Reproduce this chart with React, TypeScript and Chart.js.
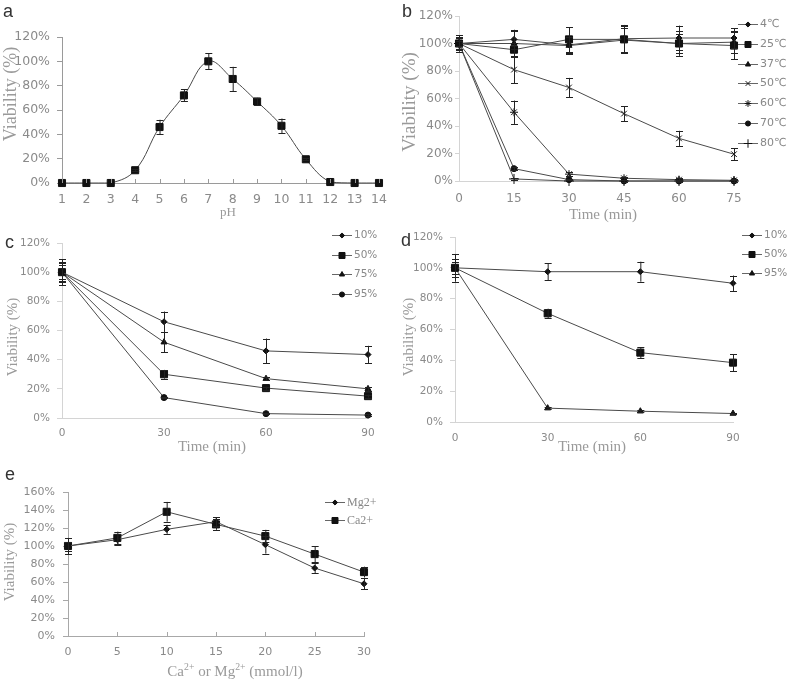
import React, { useEffect, useRef } from 'react';
import { Chart, registerables } from 'chart.js';
import { drawPoint } from 'chart.js/helpers';

Chart.register(...registerables);

// ---------- Panel a: pH ----------
const PH_LEVELS = [1, 2, 3, 4, 5, 6, 7, 8, 9, 10, 11, 12, 13, 14];
const PH_VIABILITY = [0, 0, 0, 10.5, 46, 72, 100, 85.5, 67, 47, 19.5, 0.8, 0, 0];
const PH_ERROR = [0, 0, 0, 0.8, 6, 5, 6.5, 10, 3, 6, 1, 0, 0, 0];

// ---------- Panel b: temperature ----------
const HEAT_TIMES = [0, 15, 30, 45, 60, 75];
const HEAT_LABELS = ['4℃', '25℃', '37℃', '50℃', '60℃', '70℃', '80℃'];
const HEAT_4C = [100, 103, 99, 103.5, 104, 104];
const HEAT_4C_ERR = [6, 7, 6, 10, 9, 7];
const HEAT_25C = [100, 95.5, 103, 103, 100, 98.5];
const HEAT_25C_ERR = [5, 5, 9, 10, 9, 10];
const HEAT_37C = [100, 100, 98.5, 102.5, 100, 101];
const HEAT_37C_ERR = [5, 9, 6, 9, 7, 8];
const HEAT_50C = [100, 81, 68, 49, 31, 19.5];
const HEAT_50C_ERR = [4, 10, 7, 5.5, 5.5, 4.5];
const HEAT_60C = [100, 50, 5, 2, 1, 0.5];
const HEAT_60C_ERR = [4, 8.5, 1.5, 1, 1, 1];
const HEAT_70C = [100, 9, 1, 0, 0, 0];
const HEAT_70C_ERR = [2, 1, 0.5, 0.5, 0.5, 0.5];
const HEAT_80C = [100, 1.5, 0, 0, 0, 0];
const HEAT_80C_ERR = [2, 0.5, 0, 0, 0, 0];

// ---------- Panel c ----------
const C_TIMES = [0, 30, 60, 90];
const C_LABELS = ['10%', '50%', '75%', '95%'];
const C_10 = [100, 66, 46, 43.5];
const C_10_ERR = [9, 7, 8.5, 6];
const C_50 = [100, 30, 20.5, 15];
const C_50_ERR = [7, 3, 1, 1];
const C_75 = [100, 52, 27, 20];
const C_75_ERR = [6, 7, 1, 1.5];
const C_95 = [100, 14, 3, 2];
const C_95_ERR = [5, 0.5, 0.5, 0.5];

// ---------- Panel d ----------
const D_TIMES = [0, 30, 60, 90];
const D_LABELS = ['10%', '50%', '95%'];
const D_10 = [100, 97.5, 97.5, 90];
const D_10_ERR = [9, 5.5, 6.5, 5];
const D_50 = [100, 70.5, 45, 38.5];
const D_50_ERR = [6, 3, 3.5, 5.5];
const D_95 = [100, 9, 7, 5.5];
const D_95_ERR = [4, 0.5, 0.5, 0.5];

// ---------- Panel e ----------
const ION_CONC = [0, 5, 10, 15, 20, 25, 30];
const E_LABELS = ['Mg2+', 'Ca2+'];
const MG_VIABILITY = [100, 107, 118.5, 127, 101.5, 75.5, 58];
const MG_ERR = [9, 6, 5, 5, 10, 6, 6];
const CA_VIABILITY = [100, 109, 138, 124, 111, 91, 71];
const CA_ERR = [5, 7, 11, 6, 7, 9, 6];

const LINE = '#4a4a4a';
const MARK = '#111111';
const TICK_COLOR = '#8a8a8a';
const TICK_FAMILY = "'DejaVu Sans', sans-serif";

type Series = {
  label: string;
  x: number[];
  y: number[];
  err: number[];
  style: string;
  radius: number;
  tension?: number;
};

type Spec = {
  key: string;
  canvas: { x: number; y: number; w: number; h: number };
  area: { l: number; t: number; r: number; b: number };
  xMin: number; xMax: number; xStep: number;
  yMax: number; yStep: number;
  tickSize: number;
  axisColor: string;
  yTickLen: number; yTickPad: number; xTickPad: number;
  innerX: boolean;
  legend?: { x: number; y: number; gap: number; len: number; font: string; color: string };
  series: Series[];
};

const errorBarPlugin = {
  id: 'errorBars',
  afterDatasetsDraw(chart: any) {
    const ctx = chart.ctx;
    const xs = chart.scales.x;
    const ys = chart.scales.y;
    chart.data.datasets.forEach((ds: any) => {
      const errs: number[] = ds.errorBars;
      if (!errs) return;
      ds.data.forEach((pt: any, j: number) => {
        const e = errs[j];
        if (!e) return;
        const px = xs.getPixelForValue(pt.x);
        const yt = ys.getPixelForValue(pt.y + e);
        const yb = ys.getPixelForValue(pt.y - e);
        ctx.save();
        ctx.strokeStyle = '#222';
        ctx.lineWidth = 1;
        ctx.beginPath();
        ctx.moveTo(px + 0.5, yt);
        ctx.lineTo(px + 0.5, yb);
        ctx.moveTo(px - 3, Math.round(yt) + 0.5);
        ctx.lineTo(px + 4, Math.round(yt) + 0.5);
        ctx.moveTo(px - 3, Math.round(yb) + 0.5);
        ctx.lineTo(px + 4, Math.round(yb) + 0.5);
        ctx.stroke();
        ctx.restore();
      });
    });
  },
};

const sideLegendPlugin = {
  id: 'sideLegend',
  afterDraw(chart: any, _args: any, opts: any) {
    if (!opts || !opts.display) return;
    const ctx = chart.ctx;
    chart.data.datasets.forEach((ds: any, i: number) => {
      const y = Math.round(opts.y + i * opts.gap) + 0.5;
      ctx.save();
      ctx.strokeStyle = '#666';
      ctx.lineWidth = 1;
      ctx.beginPath();
      ctx.moveTo(opts.x, y);
      ctx.lineTo(opts.x + opts.len, y);
      ctx.stroke();
      ctx.fillStyle = MARK;
      ctx.strokeStyle = MARK;
      ctx.lineWidth = 1;
      drawPoint(ctx, { pointStyle: ds.pointStyle, radius: ds.pointRadius * 0.85, rotation: 0, borderWidth: 1 } as any, opts.x + opts.len / 2, y);
      ctx.fillStyle = opts.color;
      ctx.font = opts.font;
      ctx.textBaseline = 'middle';
      ctx.textAlign = 'left';
      ctx.fillText(ds.label, opts.x + opts.len + 2, y);
      ctx.restore();
    });
  },
};

const innerTicksPlugin = {
  id: 'innerTicks',
  afterDraw(chart: any, _args: any, opts: any) {
    if (!opts || !opts.display) return;
    const ctx = chart.ctx;
    const xs = chart.scales.x;
    const bottom = chart.chartArea.bottom;
    ctx.save();
    ctx.strokeStyle = opts.color;
    ctx.lineWidth = 1;
    ctx.beginPath();
    xs.ticks.forEach((t: any) => {
      const px = Math.round(xs.getPixelForValue(t.value)) + 0.5;
      ctx.moveTo(px, bottom);
      ctx.lineTo(px, bottom - 4);
    });
    ctx.stroke();
    ctx.restore();
  },
};

function buildConfig(s: Spec): any {
  const datasets = s.series.map((ser) => ({
    label: ser.label,
    data: ser.x.map((x, i) => ({ x, y: ser.y[i] })),
    errorBars: ser.err,
    borderColor: LINE,
    borderWidth: 1,
    pointStyle: ser.style,
    pointRadius: ser.radius,
    pointBackgroundColor: MARK,
    pointBorderColor: MARK,
    pointBorderWidth: 1,
    tension: ser.tension ?? 0,
    clip: false,
    fill: false,
  }));
  const c = s.canvas;
  const a = s.area;
  return {
    type: 'line',
    data: { datasets },
    options: {
      responsive: false,
      maintainAspectRatio: false,
      animation: false,
      events: [],
      layout: {
        padding: { left: 0, top: a.t - c.y, right: c.x + c.w - a.r, bottom: 0 },
      },
      plugins: {
        legend: { display: false },
        tooltip: { enabled: false },
        sideLegend: s.legend ? { display: true, ...s.legend } : { display: false },
        innerTicks: { display: s.innerX, color: s.axisColor },
      },
      scales: {
        x: {
          type: 'linear',
          min: s.xMin,
          max: s.xMax,
          afterFit: (sc: any) => { sc.height = c.y + c.h - a.b; },
          ticks: {
            stepSize: s.xStep,
            autoSkip: false,
            maxRotation: 0,
            padding: s.xTickPad,
            color: TICK_COLOR,
            font: { family: TICK_FAMILY, size: s.tickSize },
          },
          grid: { display: true, drawOnChartArea: false, drawTicks: false, color: s.axisColor },
          border: { display: true, color: s.axisColor, width: 1 },
        },
        y: {
          type: 'linear',
          min: 0,
          max: s.yMax,
          afterFit: (sc: any) => { sc.width = a.l - c.x; },
          ticks: {
            stepSize: s.yStep,
            padding: s.yTickPad,
            color: TICK_COLOR,
            font: { family: TICK_FAMILY, size: s.tickSize },
            callback: (v: any) => v + '%',
          },
          grid: { display: true, drawOnChartArea: false, drawTicks: true, tickLength: s.yTickLen, color: s.axisColor },
          border: { display: true, color: s.axisColor, width: 1 },
        },
      },
    },
    plugins: [errorBarPlugin, sideLegendPlugin, innerTicksPlugin],
  };
}

const SPECS: Spec[] = [
  {
    key: 'a',
    canvas: { x: 0, y: 17, w: 400, h: 196 },
    area: { l: 62, t: 37, r: 379, b: 183 },
    xMin: 1, xMax: 14, xStep: 1, yMax: 120, yStep: 20,
    tickSize: 12.5, axisColor: '#9a9a9a', yTickLen: 5, yTickPad: 7, xTickPad: 9,
    innerX: true,
    series: [
      { label: 'pH', x: PH_LEVELS, y: PH_VIABILITY, err: PH_ERROR, style: 'rect', radius: 5, tension: 0.4 },
    ],
  },
  {
    key: 'b',
    canvas: { x: 400, y: 0, w: 387, h: 211 },
    area: { l: 459, t: 16, r: 734, b: 181 },
    xMin: 0, xMax: 75, xStep: 15, yMax: 120, yStep: 20,
    tickSize: 12, axisColor: '#d4d4d4', yTickLen: 4, yTickPad: 2, xTickPad: 11,
    innerX: false,
    legend: { x: 338, y: 24, gap: 19.8, len: 20, font: `11px ${TICK_FAMILY}`, color: '#888' },
    series: [
      { label: HEAT_LABELS[0], x: HEAT_TIMES, y: HEAT_4C, err: HEAT_4C_ERR, style: 'rectRot', radius: 3 },
      { label: HEAT_LABELS[1], x: HEAT_TIMES, y: HEAT_25C, err: HEAT_25C_ERR, style: 'rect', radius: 5 },
      { label: HEAT_LABELS[2], x: HEAT_TIMES, y: HEAT_37C, err: HEAT_37C_ERR, style: 'triangle', radius: 3.5 },
      { label: HEAT_LABELS[3], x: HEAT_TIMES, y: HEAT_50C, err: HEAT_50C_ERR, style: 'crossRot', radius: 4 },
      { label: HEAT_LABELS[4], x: HEAT_TIMES, y: HEAT_60C, err: HEAT_60C_ERR, style: 'star', radius: 4 },
      { label: HEAT_LABELS[5], x: HEAT_TIMES, y: HEAT_70C, err: HEAT_70C_ERR, style: 'circle', radius: 3 },
      { label: HEAT_LABELS[6], x: HEAT_TIMES, y: HEAT_80C, err: HEAT_80C_ERR, style: 'cross', radius: 5 },
    ],
  },
  {
    key: 'c',
    canvas: { x: 0, y: 222, w: 400, h: 226 },
    area: { l: 62, t: 243, r: 368, b: 418 },
    xMin: 0, xMax: 90, xStep: 30, yMax: 120, yStep: 20,
    tickSize: 10.5, axisColor: '#d4d4d4', yTickLen: 5, yTickPad: 7, xTickPad: 9,
    innerX: false,
    legend: { x: 332, y: 13, gap: 19.7, len: 20, font: `10.5px ${TICK_FAMILY}`, color: '#888' },
    series: [
      { label: C_LABELS[0], x: C_TIMES, y: C_10, err: C_10_ERR, style: 'rectRot', radius: 3 },
      { label: C_LABELS[1], x: C_TIMES, y: C_50, err: C_50_ERR, style: 'rect', radius: 5 },
      { label: C_LABELS[2], x: C_TIMES, y: C_75, err: C_75_ERR, style: 'triangle', radius: 3.5 },
      { label: C_LABELS[3], x: C_TIMES, y: C_95, err: C_95_ERR, style: 'circle', radius: 3 },
    ],
  },
  {
    key: 'd',
    canvas: { x: 400, y: 222, w: 387, h: 230 },
    area: { l: 455, t: 237, r: 733, b: 422 },
    xMin: 0, xMax: 90, xStep: 30, yMax: 120, yStep: 20,
    tickSize: 10.5, axisColor: '#d4d4d4', yTickLen: 5, yTickPad: 7, xTickPad: 10,
    innerX: false,
    legend: { x: 342, y: 13, gap: 19, len: 20, font: `10.5px ${TICK_FAMILY}`, color: '#888' },
    series: [
      { label: D_LABELS[0], x: D_TIMES, y: D_10, err: D_10_ERR, style: 'rectRot', radius: 3 },
      { label: D_LABELS[1], x: D_TIMES, y: D_50, err: D_50_ERR, style: 'rect', radius: 5 },
      { label: D_LABELS[2], x: D_TIMES, y: D_95, err: D_95_ERR, style: 'triangle', radius: 3.5 },
    ],
  },
  {
    key: 'e',
    canvas: { x: 0, y: 472, w: 400, h: 194 },
    area: { l: 68, t: 492, r: 364, b: 636 },
    xMin: 0, xMax: 30, xStep: 5, yMax: 160, yStep: 20,
    tickSize: 11, axisColor: '#a8a8a8', yTickLen: 5, yTickPad: 8, xTickPad: 9.5,
    innerX: true,
    legend: { x: 325, y: 30, gap: 18, len: 20, font: `12px 'Liberation Serif', serif`, color: '#888' },
    series: [
      { label: E_LABELS[0], x: ION_CONC, y: MG_VIABILITY, err: MG_ERR, style: 'rectRot', radius: 3 },
      { label: E_LABELS[1], x: ION_CONC, y: CA_VIABILITY, err: CA_ERR, style: 'rect', radius: 5 },
    ],
  },
];

function PanelChart({ spec }: { spec: Spec }) {
  const ref = useRef<HTMLCanvasElement>(null);
  useEffect(() => {
    if (!ref.current) return;
    const chart = new Chart(ref.current, buildConfig(spec));
    return () => chart.destroy();
  }, [spec]);
  const c = spec.canvas;
  return (
    <canvas
      ref={ref}
      width={c.w}
      height={c.h}
      style={{ position: 'absolute', left: c.x, top: c.y, width: c.w, height: c.h }}
    />
  );
}

const SERIF = "'Liberation Serif', 'Times New Roman', serif";

function YTitle({ cx, cy, size }: { cx: number; cy: number; size: number }) {
  return (
    <div
      style={{
        position: 'absolute', left: cx, top: cy, transform: 'translate(-50%, -50%) rotate(-90deg)',
        whiteSpace: 'nowrap', fontFamily: SERIF, fontSize: size, color: '#9a9a9a', lineHeight: 1,
      }}
    >
      Viability (%)
    </div>
  );
}

function XTitle({ cx, cy, size, children }: { cx: number; cy: number; size: number; children: any }) {
  return (
    <div
      style={{
        position: 'absolute', left: cx, top: cy, transform: 'translate(-50%, -50%)',
        whiteSpace: 'nowrap', fontFamily: SERIF, fontSize: size, color: '#9a9a9a', lineHeight: 1,
      }}
    >
      {children}
    </div>
  );
}

function Letter({ x, y, text }: { x: number; y: number; text: string }) {
  return (
    <div
      style={{
        position: 'absolute', left: x, top: y, fontFamily: "'Liberation Sans', Arial, sans-serif",
        fontSize: 18, color: '#333', lineHeight: '18px',
      }}
    >
      {text}
    </div>
  );
}

export default function App() {
  return (
    <div style={{ position: 'absolute', left: 0, top: 0, width: 787, height: 681, background: '#fff', overflow: 'hidden' }}>
      {SPECS.map((s) => (
        <PanelChart key={s.key} spec={s} />
      ))}
      <Letter x={3} y={2} text="a" />
      <Letter x={402} y={2} text="b" />
      <Letter x={5} y={233} text="c" />
      <Letter x={401} y={231} text="d" />
      <Letter x={5} y={465} text="e" />

      <YTitle cx={10} cy={94} size={18} />
      <YTitle cx={408} cy={102} size={19} />
      <YTitle cx={12} cy={337} size={15} />
      <YTitle cx={408} cy={337} size={15} />
      <YTitle cx={9} cy={562} size={15} />

      <XTitle cx={228} cy={211} size={13}>pH</XTitle>
      <XTitle cx={603} cy={214} size={15}>Time (min)</XTitle>
      <XTitle cx={212} cy={446} size={15}>Time (min)</XTitle>
      <XTitle cx={592} cy={446} size={15}>Time (min)</XTitle>
      <XTitle cx={235} cy={670} size={15}>
        Ca<sup style={{ fontSize: '0.65em' }}>2+</sup> or Mg<sup style={{ fontSize: '0.65em' }}>2+</sup> (mmol/l)
      </XTitle>
    </div>
  );
}
